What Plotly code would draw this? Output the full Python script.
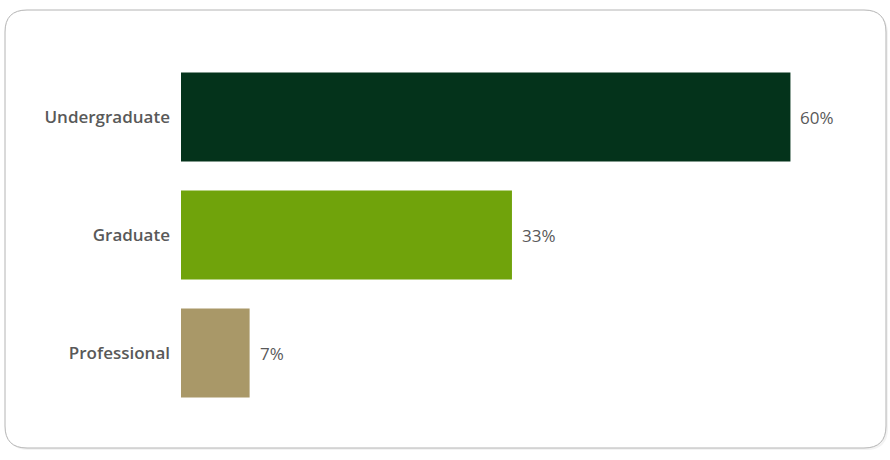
import plotly.graph_objects as go

categories = ["Undergraduate", "Graduate", "Professional"]
shares = [60.4, 32.8, 6.8]
labels = ["60%", "33%", "7%"]
colors = ["#04331b", "#70a30b", "#a99868"]

W, H = 890, 460
L, R, T, B = 181, 40, 58, 48
pw, ph = W - L - R, H - T - B
PX_PER_PCT = 10.09


def px(x):
    return (x - L) / pw


def py(y):
    return (H - B - y) / ph


def rounded_box(x0, y0, x1, y1, r):
    return (
        f"M {px(x0 + r)},{py(y0)} L {px(x1 - r)},{py(y0)} "
        f"Q {px(x1)},{py(y0)} {px(x1)},{py(y0 + r)} "
        f"L {px(x1)},{py(y1 - r)} Q {px(x1)},{py(y1)} {px(x1 - r)},{py(y1)} "
        f"L {px(x0 + r)},{py(y1)} Q {px(x0)},{py(y1)} {px(x0)},{py(y1 - r)} "
        f"L {px(x0)},{py(y0 + r)} Q {px(x0)},{py(y0)} {px(x0 + r)},{py(y0)} Z"
    )


fig = go.Figure()
fig.add_trace(
    go.Bar(
        x=shares,
        y=categories,
        orientation="h",
        marker=dict(color=colors, line=dict(width=0)),
        width=0.755,
        hoverinfo="skip",
    )
)

# value labels a little off the bar ends
for cat, val, lab in zip(categories, shares, labels):
    fig.add_annotation(x=val, y=cat, text=lab, showarrow=False,
                       xanchor="left", xshift=8,
                       font=dict(size=17, color="#595959"))

fig.add_shape(type="path", xref="paper", yref="paper", layer="below",
              path=rounded_box(7, 12, 888, 450, 22),
              fillcolor="#f3f3f3", line=dict(width=0))
fig.add_shape(type="path", xref="paper", yref="paper", layer="below",
              path=rounded_box(5, 10, 886, 448, 22),
              fillcolor="white", line=dict(color="#b4b4b4", width=1))

fig.update_layout(
    width=W,
    height=H,
    margin=dict(l=L, r=R, t=T, b=B),
    paper_bgcolor="white",
    plot_bgcolor="rgba(0,0,0,0)",
    showlegend=False,
    font=dict(family="Open Sans, Noto Sans, sans-serif", size=17, color="#595959"),
    xaxis=dict(range=[0, pw / PX_PER_PCT], visible=False, fixedrange=True),
    yaxis=dict(
        autorange="reversed",
        showgrid=False,
        showline=False,
        zeroline=False,
        ticks="",
        ticklabelstandoff=10,
        tickfont=dict(size=17, color="#595959", weight=600),
        fixedrange=True,
    ),
)

fig.write_html("out.html", config={"displayModeBar": False},
               post_script="document.body.style.margin='0';")
